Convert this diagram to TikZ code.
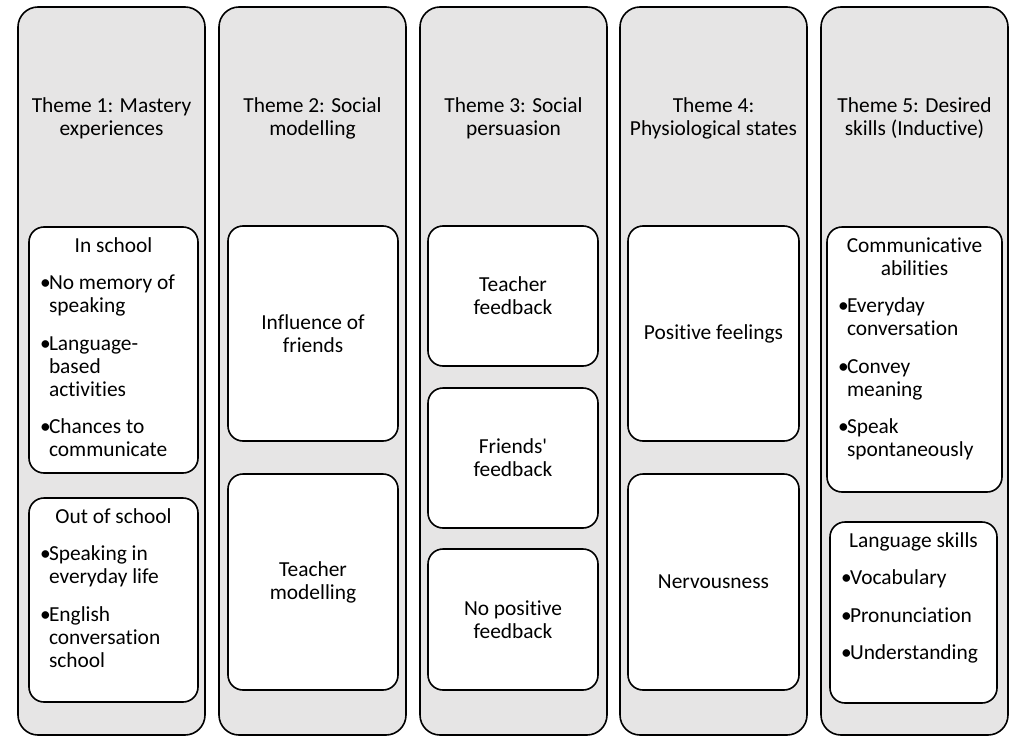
\documentclass[tikz,border=0pt]{standalone}
\usepackage{fontspec}
\setmainfont{Carlito}[Ligatures=CommonOff]
\definecolor{themegray}{RGB}{230,229,229}
\newcommand\bitem[1]{\par\vspace{14.5pt}{\leftskip=11pt\rightskip=0pt plus 1fil\hangindent=9pt\hangafter=1\noindent\makebox[9pt][l]{\textbullet}#1\par}}
\newcommand\headline[1]{{\centering\rule{0pt}{25pt}#1\par}}
\begin{document}
\begin{tikzpicture}[x=1pt,y=-1pt,
  font=\fontsize{21.4pt}{23pt}\selectfont,
  outerbox/.style={draw, line width=1.6pt, fill=themegray, rounded corners=20pt, inner sep=0pt, outer sep=0pt},
  ibox/.style={draw, line width=1.6pt, fill=white, rounded corners=15pt, inner sep=0pt, outer sep=0pt, align=center}]
\fill[white] (0,0) rectangle (1012,736);
\clip (0,0) rectangle (1012,736);
% outer theme columns
\node[outerbox] (t1) at (111.5,371) {\parbox[c][728pt][t]{187pt}{\centering\rule{0pt}{105pt}Theme 1: Mastery\\experiences}};
\node[outerbox] (t2) at (312.5,371) {\parbox[c][728pt][t]{187pt}{\centering\rule{0pt}{105pt}Theme 2: Social\\modelling}};
\node[outerbox] (t3) at (513.5,371) {\parbox[c][728pt][t]{187pt}{\centering\rule{0pt}{105pt}Theme 3: Social\\persuasion}};
\node[outerbox] (t4) at (713.5,371) {\parbox[c][728pt][t]{187pt}{\centering\rule{0pt}{105pt}Theme 4:\\Physiological states}};
\node[outerbox] (t5) at (914.5,371) {\parbox[c][728pt][t]{187pt}{\centering\rule{0pt}{105pt}Theme 5: Desired\\skills (Inductive)}};
% column 1
\node[ibox] (c1a) at (113.5,350) {\parbox[c][246pt][t]{169pt}{\headline{In school}%
  \bitem{No memory of\newline speaking}%
  \bitem{Language-\newline based\newline activities}%
  \bitem{Chances to\newline communicate}}};
\node[ibox] (c1b) at (113.5,600) {\parbox[c][204pt][t]{169pt}{\headline{Out of school}%
  \bitem{Speaking in\newline everyday life}%
  \bitem{English\newline conversation\newline school}}};
% column 2
\node[ibox, minimum width=170pt, minimum height=215pt] (c2a) at (313,333.5) {Influence of\\friends};
\node[ibox, minimum width=170pt, minimum height=216pt] (c2b) at (313,582) {Teacher\\modelling};
% column 3
\node[ibox, minimum width=170pt, minimum height=140pt] (c3a) at (513,296) {Teacher\\feedback};
\node[ibox, minimum width=170pt, minimum height=140pt] (c3b) at (513,458) {Friends\textquotesingle\\feedback};
\node[ibox, minimum width=170pt, minimum height=141pt] (c3c) at (513,619.5) {No positive\\feedback};
% column 4
\node[ibox, minimum width=171pt, minimum height=215pt] (c4a) at (713.5,333.5) {Positive feelings};
\node[ibox, minimum width=171pt, minimum height=216pt] (c4b) at (713.5,582) {Nervousness};
% column 5
\node[ibox] (c5a) at (914.5,359.5) {\parbox[c][265pt][t]{175pt}{\headline{Communicative\\abilities}%
  \bitem{Everyday\newline conversation}%
  \bitem{Convey\newline meaning}%
  \bitem{Speak\newline spontaneously}}};
\node[ibox] (c5b) at (913.5,612.5) {\parbox[c][181pt][t]{167pt}{\headline{Language skills}%
  \bitem{Vocabulary}%
  \bitem{Pronunciation}%
  \bitem{Understanding}}};
\end{tikzpicture}
\end{document}
